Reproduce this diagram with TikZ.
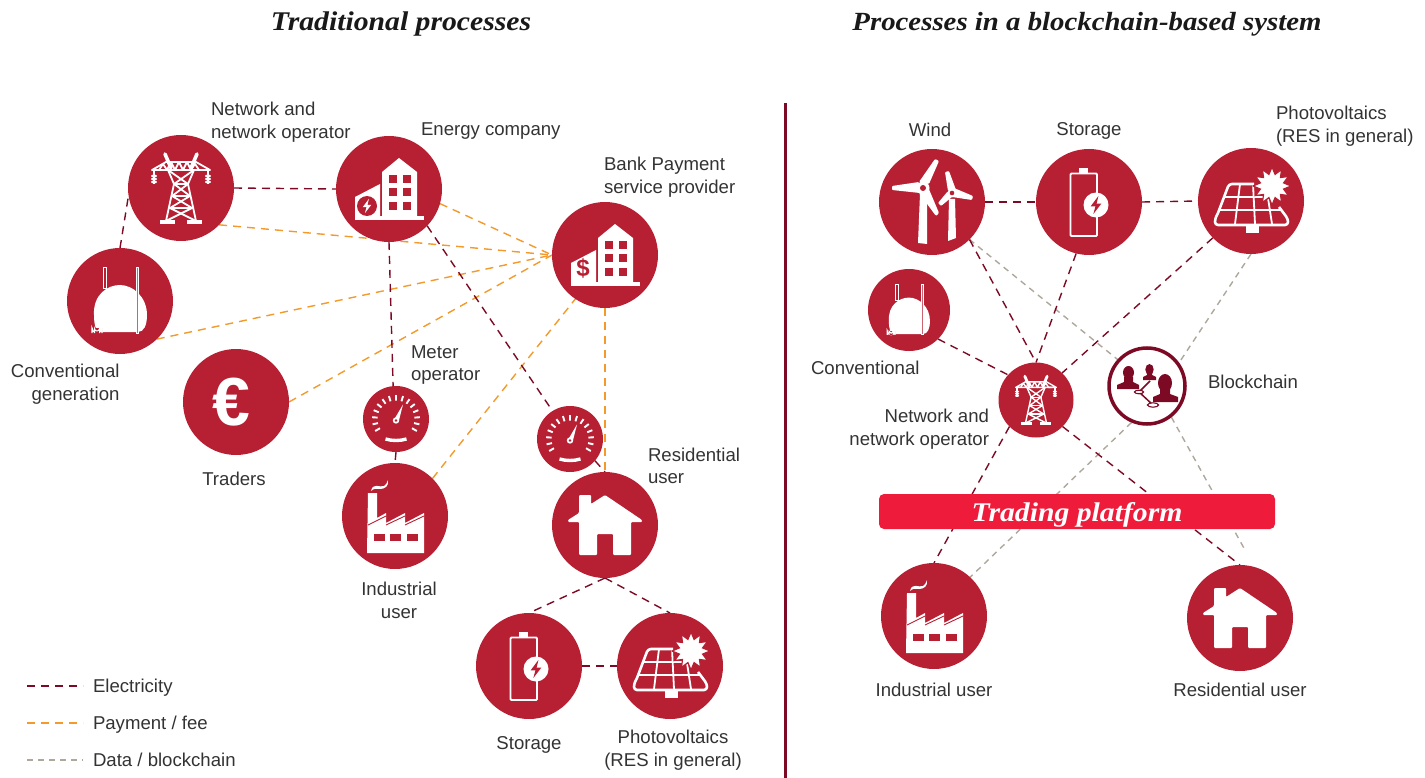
\documentclass[tikz,border=0pt]{standalone}
\usepackage{fontspec}
\setmainfont{Liberation Sans}
\newfontfamily\headfont[FakeStretch=1.1]{Liberation Serif}
\definecolor{discred}{HTML}{B71F33}
\definecolor{darkline}{HTML}{7D0A24}
\definecolor{payline}{HTML}{F39A2B}
\definecolor{dataline}{HTML}{ADA79C}
\definecolor{barred}{HTML}{EE1C3A}
\definecolor{labeltext}{HTML}{333333}
\pgfdeclarelayer{back}
\pgfsetlayers{back,main}
\newcommand{\boltshape}[3]{\fill[#3,shift={(#1)},scale=#2] (2,-7.5)--(-4.5,1.2)--(-0.5,1.2)--(-2.2,7.5)--(4.5,-1.2)--(0.5,-1.2)--cycle;}
\newcommand{\bldg}{%
  \fill[white] (-34,27) rectangle (35,31);
  \fill[white] (-34,8)--(-9,-5)--(-9,27.5)--(-34,27.5)--cycle;
  \fill[white] (-7,-17)--(10,-31)--(28,-17)--(28,27.5)--(-7,27.5)--cycle;
  \foreach \cx in {0,13.5}\foreach \cy in {-14,-1,13}{\fill[discred] (\cx,\cy) rectangle ++(8,8);}
}
\tikzset{
  disc/.style={circle,fill=discred,draw=none,inner sep=0pt,outer sep=0pt,minimum size=#1},
  disc/.default=106,
  lab/.style={font=\fontsize{18.6}{22.5}\selectfont,text=labeltext,inner sep=0pt,outer sep=0pt},
  head/.style={font=\headfont\bfseries\itshape\fontsize{27}{30}\selectfont,text=black!90,inner sep=0pt},
  headwide/.style={font=\headfont\bfseries\itshape\fontsize{26.2}{30}\selectfont,text=black!90,inner sep=0pt},
  elec/.style={draw=darkline,line width=1.4pt,dash pattern=on 8pt off 6pt},
  pay/.style={draw=payline,line width=1.4pt,dash pattern=on 8pt off 6pt},
  data/.style={draw=dataline,line width=1.4pt,dash pattern=on 6pt off 5pt},
  pics/tower/.style={code={
    \begin{scope}[draw=white,line width=#1,line cap=round,line join=round]
    \draw[line width=2*#1] (-16,-34)--(-10,-20) (16,-34)--(10,-20);
    \draw (-29,-18)--(-15,-26)--(15,-26)--(29,-18)--cycle;
    \draw (-22,-18)--(-18,-24)--(-14,-18)--(-10,-26)--(-6,-18)--(-2,-26)--(2,-18)--(6,-26)--(10,-18)--(14,-24)--(18,-18)--(22,-18);
    \draw (-13,-18)--(-7,-4)--(-15,33) (13,-18)--(7,-4)--(15,33);
    \draw (-13,-18)--(7,-4)--(-9,8)--(11,20)--(-15,33);
    \draw (13,-18)--(-7,-4)--(9,8)--(-11,20)--(15,33);
    \draw (-7,-4)--(7,-4) (-9,8)--(9,8) (-11,20)--(11,20);
    \end{scope}
    \foreach \sx in {-1,1}{
      \fill[white] (\sx*27,-12) ellipse (3 and 1.5);
      \fill[white] (\sx*27,-9) ellipse (3 and 1.5);
      \fill[white] (\sx*27,-6) ellipse (3 and 1.5);
      \fill[white] (\sx*28,-18) rectangle (\sx*26,-4);
      \fill[white] (\sx*21,32)--(\sx*6,32)--(\sx*6,36)--(\sx*21,36)--cycle;
    }
  }},
  pics/plant/.style={code={
    \fill[white] (-26,14) .. controls (-27,-6) and (-13,-16) .. (0,-16)
       .. controls (13,-16) and (27,-4) .. (27,14)
       .. controls (27,24) and (24,31) .. (18,31)
       -- (-20,31) .. controls (-24,31) and (-26,24) .. (-26,14) -- cycle;
    \draw[white,line width=1pt,fill=discred] (-17,-33) rectangle (-14,-12);
    \draw[white,line width=1pt,fill=discred!70!white] (16,-33) rectangle (18.5,32);
    \draw[white,line width=1.2pt,fill=discred] (-28,32)--(-28,27) arc[start angle=180,end angle=0,radius=5]--(-18,32);
    \fill[discred] (-25.8,32.5) rectangle (-20.2,27);
    \draw[white,line width=1pt] (-25.5,32)--(-25.5,27.5) arc[start angle=180,end angle=0,radius=2.5]--(-20.5,32);
  }},
  pics/euro/.style={code={
    \node[transform shape,text=white,inner sep=0pt,font=\bfseries\fontsize{68}{68}\selectfont] at (-5,0) {€};
  }},
  pics/energy/.style={code={
    \bldg
    \fill[discred] (-22,17) circle (10);
    \boltshape{-22,17}{0.95}{white}
  }},
  pics/bankhouse/.style={code={
    \bldg
    \node[transform shape,text=discred,inner sep=0pt,font=\bfseries\fontsize{24}{24}\selectfont] at (-22,13) {\$};
  }},
  pics/gauge/.style={code={
    \foreach \i in {0,...,14}{\draw[white,line width=1.9pt] (-210+\i*17.14:18.5) -- (-210+\i*17.14:24);}
    \fill[white] (-2.4,1.5)--(7,-14.5)--(2.6,3)--cycle;
    \fill[white] (0,1.5) circle (3.2);
    \fill[discred] (0,1.5) circle (1.3);
    \draw[white,line width=3.4pt] (-10.5,20) .. controls (-4,22) and (4,22) .. (10.5,20);
  }},
  pics/factory/.style={code={
    \fill[white] (-28,37)--(-27,-23)--(-18,-23)--(-18,2)--(-9,-3)--(-9,7)--(10,-3)--(10,7)--(29,-3)--(29,37)--cycle;
    \draw[discred,line width=0.9pt] (-27,9)--(-9,0) (-9,9)--(10,0) (10,9)--(29,0);
    \foreach \wx in {-21,-5,12}{\fill[discred] (\wx,18) rectangle ++(11,7);}
    \fill[white] (-24,-25) .. controls (-22,-34) and (-15,-28) .. (-11,-30) .. controls (-9,-31) and (-8,-33) .. (-7,-36)
       .. controls (-6,-30) and (-10,-27) .. (-15,-27) .. controls (-19,-27) and (-21,-28) .. (-24,-25) -- cycle;
  }},
  pics/house/.style={code={
    \fill[white,rounded corners=1pt] (-26,-12)--(-26,-30)--(-14,-30)--(-14,-21)--(0,-30)--(37,-5)--(37,-3)--(26,-3)--(26,30)--(8,30)--(8,9)--(-8,9)--(-8,30)--(-26,30)--(-26,-3)--(-37,-3)--(-37,-5)--cycle;
  }},
  pics/battery/.style={code={
    \draw[white,line width=1.8pt,rounded corners=1pt] (-18.5,-28.5) rectangle (8,34);
    \fill[white] (-10,-34) rectangle (-1,-28.5);
    \fill[white] (7,3) circle (12.5);
    \boltshape{7,3}{1.2}{discred}
  }},
  pics/panel/.style={code={
    \draw[white,line width=2.6pt,rounded corners=3pt,line join=round] (-33,12)--(-22,-17)--(3,-17) (28,6)--(37,18)--(37,24)--(-36,24)--(-36,18)--(-33,12);
    \draw[white,line width=1.8pt] (-11,-17)--(-16,23) (2,-17)--(4,23) (-26,-4)--(20,-4) (-31,9)--(30,9) (17,-3)--(21,23);
    \fill[white] (-5,25) rectangle (8,32);
    \begin{scope}[shift={(21,-15)}]
      \fill[white,draw=discred,line width=1.2pt] (0:19) \foreach \i in {0,...,11}{ -- (\i*30+15:12) -- (\i*30+30:19)} -- cycle;
    \end{scope}
  }},
  pics/turbine/.style={code={
    \fill[white] (-12,-8)--(-5,-8)--(-5,42)--(-14,41)--cycle;
    \begin{scope}[rounded corners=1pt]
    \fill[white] (-13,-20)--(3,-43)--(7,-41)--(-3,-18)--cycle;
    \fill[white] (-40,-16)--(-13,-20)--(-12,-9)--(-40,-12)--cycle;
    \fill[white] (-4,-15)--(7,11)--(4,14)--(-13,-9)--cycle;
    \fill[white] (13,-30)--(17,-31)--(24,-12)--(16,-11)--cycle;
    \fill[white] (22,-14)--(41,-6)--(40,-2)--(20,-5)--cycle;
    \fill[white] (16,-11)--(20,-5)--(9,4)--(6,1)--cycle;
    \end{scope}
    \fill[white] (-9,-14) circle (6.5);
    \fill[discred] (-9,-14) circle (3);
    \fill[white] (17,-3)--(23,-3)--(24,36)--(16,39)--cycle;
    \fill[white] (20,-9) circle (4.5);
    \fill[discred] (20,-9) circle (2.3);
  }},
  pics/people/.style={code={
    \fill[darkline] (-18.5,-13.5) ellipse (5.5 and 6.5);
    \fill[darkline] (-30,3)--(-30,-1)--(-23,-4)--(-23,-9)--(-14,-9)--(-14,-4)--(-8,-1)--(-8,3)--cycle;
    \fill[darkline] (2.5,-16.5) ellipse (4.2 and 5.5);
    \fill[darkline] (-4,-6)--(-4,-9)--(0,-11)--(0,-14)--(5,-14)--(5,-11)--(9,-9)--(9,-6)--cycle;
    \fill[darkline] (18,-3) ellipse (7 and 9);
    \fill[darkline] (6,16)--(6,11)--(13,8)--(13,0)--(23,0)--(23,8)--(31,11)--(31,16)--cycle;
    \draw[darkline,line width=1.5pt] (3,-5)--(-8,6)--(6,19);
    \draw[darkline,line width=1.1pt,fill=white] (-8,6) ellipse (4.5 and 1.8);
    \draw[darkline,line width=1.1pt,fill=white] (6,19) ellipse (5.5 and 2.2);
  }},
}
\begin{document}
\begin{tikzpicture}[x=1pt,y=-1pt]
\useasboundingbox (0,0) rectangle (1425,778);
% left discs
\node[disc] (net) at (181,188) {};
\node[disc] (energy) at (389,189) {};
\node[disc] (bank) at (605,255) {};
\node[disc] (conv) at (120,301) {};
\node[disc] (traders) at (236,402) {};
\node[disc=66] (meterA) at (396,419) {};
\node[disc=66] (meterB) at (570,439) {};
\node[disc] (ind) at (395,516) {};
\node[disc] (home) at (605,525) {};
\node[disc] (stor) at (529,666) {};
\node[disc] (pv) at (670,666) {};
% right discs
\node[disc] (wind) at (932,202) {};
\node[disc] (rstor) at (1089,202) {};
\node[disc] (rpv) at (1251,201) {};
\node[disc=82] (rconv) at (909,310) {};
\node[disc=75] (rnet) at (1036,400) {};
\node[circle,draw=darkline,fill=white,line width=3.5pt,minimum size=76,inner sep=0pt,outer sep=1.7pt] (chain) at (1147,386) {};
\node[disc] (rind) at (934,616) {};
\node[disc] (rhome) at (1240,618) {};
\node[fill=barred,rounded corners=5pt,minimum width=396,minimum height=35,inner sep=0pt] (bar) at (1077,511.5) {};
\node[text=white,inner sep=0pt,font=\headfont\bfseries\itshape\fontsize{27}{30}\selectfont] (bartext) at (1077,515) {Trading platform};
% icons
\pic at (net) {tower=1.8pt};
\pic at (energy) {energy};
\pic at (bank) {bankhouse};
\pic at (conv) {plant};
\pic at (traders) {euro};
\pic at (meterA) {gauge};
\pic at (meterB) {gauge};
\pic at (ind) {factory};
\pic at (home) {house};
\pic at (stor) {battery};
\pic at (pv) {panel};
\pic at (wind) {turbine};
\pic at (rstor) {battery};
\pic at (rpv) {panel};
\pic[scale=0.775] at (rconv) {plant};
\pic[scale=0.7] at (rnet) {tower=1.4pt};
\pic at (chain) {people};
\pic at (rind) {factory};
\pic at (rhome) {house};
% headings
\node[head] (h1) at (401,24) {Traditional processes};
\node[headwide] (h2) at (1087,24) {Processes in a blockchain-based system};
% divider
\coordinate (divtop) at (785,103);
\coordinate (divbot) at (785,778);
\draw[darkline,line width=3pt] (divtop)--(divbot);
% labels left
\node[lab,align=left,anchor=west] (l1) at (211,122) {Network and\\network operator};
\node[lab,anchor=west] (l2) at (421,131) {Energy company};
\node[lab,align=left,anchor=west] (l3) at (604,177) {Bank Payment\\service provider};
\node[lab,align=right,anchor=east] (l4) at (119.5,384) {Conventional\\generation};
\node[lab] (l5) at (234,479) {Traders};
\node[lab,align=left,anchor=west] (l6) at (411,365) {Meter\\operator};
\node[lab,align=left,anchor=west] (l7) at (648,466) {Residential\\user};
\node[lab,align=center] (l8) at (399,600.5) {Industrial\\user};
\node[lab] (l9) at (529,745) {Storage};
\node[lab,align=center] (l10) at (673,750) {Photovoltaics\\(RES in general)};
% labels right
\node[lab] (r1) at (930,130) {Wind};
\node[lab] (r2) at (1089,131) {Storage};
\node[lab,align=left,anchor=west] (r3) at (1276,126) {Photovoltaics\\(RES in general)};
\node[lab,anchor=west] (r4) at (811,368) {Conventional};
\node[lab,align=right,anchor=east] (r5) at (989,429) {Network and\\network operator};
\node[lab,anchor=west] (r6) at (1208,382) {Blockchain};
\node[lab] (r7) at (934,690) {Industrial user};
\node[lab] (r8) at (1240,690) {Residential user};
% legend
\node[lab,anchor=west] (k1) at (93,688) {Electricity};
\node[lab,anchor=west] (k2) at (93,725) {Payment / fee};
\node[lab,anchor=west] (k3) at (93,760) {Data / blockchain};
\coordinate (k1a) at (27,686);
\coordinate (k2a) at (27,723);
\coordinate (k3a) at (27,760);
\coordinate (k1b) at (83,686);
\coordinate (k2b) at (83,723);
\coordinate (k3b) at (83,760);
\coordinate (gridend) at (1245,550);
\begin{pgfonlayer}{back}
\draw[elec] (k1a)--(k1b);
\draw[pay] (k2a)--(k2b);
\draw[data] (k3a)--(k3b);
% left connectors
\draw[pay] (energy.344)--(bank.180);
\draw[pay] (net.316)--(bank.180);
\draw[pay] (conv.314)--(bank.180);
\draw[pay] (traders.0)--(bank.180);
\draw[pay] (ind.45)--(bank.236);
\draw[pay] (bank.270)--(home.90);
\draw[elec] (conv.90)--(net.188);
\draw[elec] (net.0)--(energy.180);
\draw[elec] (energy.316)--(meterB.122);
\draw[elec] (energy.270)--(meterA.95);
\draw[elec] (meterA.270)--(ind.90);
\draw[elec] (meterB.319)--(home.90);
\draw[elec] (home.270)--(stor.90);
\draw[elec] (home.270)--(pv.90);
\draw[elec] (stor.0)--(pv.180);
% right connectors
\draw[data] (wind.315)--(chain.138);
\draw[data] (rpv.270)--(chain.36);
\draw[data] (chain.247)--(rind.47);
\draw[data] (chain.308)--(gridend);
\draw[elec] (wind.0)--(rstor.180);
\draw[elec] (rstor.0)--(rpv.180);
\draw[elec] (wind.315)--(rnet.90);
\draw[elec] (rstor.256)--(rnet.90);
\draw[elec] (rpv.224)--(rnet.46);
\draw[elec] (rconv.315)--(rnet.138);
\draw[elec] (rnet.225)--(rind.90);
\draw[elec] (rnet.315)--(rhome.90);
\end{pgfonlayer}
\end{tikzpicture}
\end{document}
